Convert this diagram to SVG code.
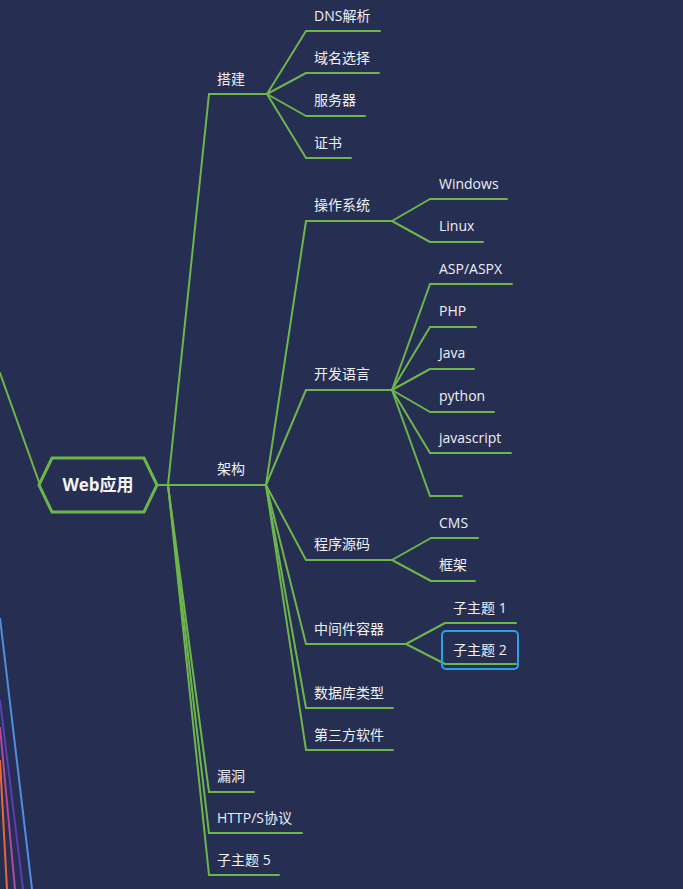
<svg xmlns="http://www.w3.org/2000/svg" width="683" height="889" viewBox="0 0 683 889">
<style>
.t{font-family:"Open Sans","Noto Sans CJK SC",sans-serif;font-size:14px;fill:#eef0f5}
.u{stroke:#6db64c;stroke-width:2;fill:none;stroke-linecap:round;stroke-linejoin:round}
.c{stroke:#6db64c;stroke-width:2;fill:none;stroke-linecap:round}
</style>
<rect x="0" y="0" width="683" height="889" fill="#262e52"/>
<g id="edge-lines">
<line x1="0" y1="618" x2="32" y2="889" stroke="#4f8fe0" stroke-width="2"/>
<line x1="0" y1="700" x2="23" y2="889" stroke="#5a3fb0" stroke-width="2"/>
<line x1="0" y1="727" x2="15" y2="889" stroke="#b04a9a" stroke-width="2"/>
<line x1="0" y1="760" x2="7" y2="889" stroke="#e8683a" stroke-width="2"/>
</g>
<g id="connectors">
<line class="c" x1="0" y1="373" x2="39" y2="482"/>
<polyline class="c" points="157,485 266,485"/>
<line class="c" x1="168" y1="485" x2="209" y2="94"/>
<line class="c" x1="168" y1="485" x2="209" y2="792"/>
<line class="c" x1="168" y1="485" x2="209" y2="833"/>
<line class="c" x1="168" y1="485" x2="209" y2="875"/>
<line class="c" x1="267" y1="94" x2="306" y2="31"/>
<line class="c" x1="267" y1="94" x2="306" y2="73"/>
<line class="c" x1="267" y1="94" x2="306" y2="116"/>
<line class="c" x1="267" y1="94" x2="306" y2="158"/>
<line class="c" x1="266" y1="485" x2="306" y2="221"/>
<line class="c" x1="266" y1="485" x2="306" y2="390"/>
<line class="c" x1="266" y1="485" x2="306" y2="560"/>
<line class="c" x1="266" y1="485" x2="306" y2="644"/>
<line class="c" x1="266" y1="485" x2="306" y2="708"/>
<line class="c" x1="266" y1="485" x2="306" y2="750"/>
<line class="c" x1="392" y1="221" x2="430" y2="199"/>
<line class="c" x1="392" y1="221" x2="430" y2="242"/>
<line class="c" x1="392" y1="390" x2="430" y2="284"/>
<line class="c" x1="392" y1="390" x2="430" y2="327"/>
<line class="c" x1="392" y1="390" x2="430" y2="369"/>
<line class="c" x1="392" y1="390" x2="430" y2="412"/>
<line class="c" x1="392" y1="390" x2="430" y2="453"/>
<line class="c" x1="392" y1="390" x2="430" y2="496"/>
<line class="c" x1="392" y1="560" x2="431" y2="538"/>
<line class="c" x1="392" y1="560" x2="431" y2="581"/>
<line class="c" x1="406" y1="644" x2="445" y2="623"/>
<line class="c" x1="406" y1="644" x2="445" y2="664"/>
</g>
<g id="root">
<polygon points="39,485 52,458 144,458 157,485 144,512 52,512" fill="#262e52" stroke="#6db64c" stroke-width="3" stroke-linejoin="miter"/>
<text x="98" y="491" text-anchor="middle" font-family="'Open Sans','Noto Sans CJK SC',sans-serif" font-size="17" font-weight="bold" fill="#f2f3f7">Web应用</text>
</g>
<g id="n-dajian"><line class="u" x1="209" y1="94" x2="267" y2="94"/><text class="t" x="217" y="84">搭建</text></g>
<g id="n-dns"><line class="u" x1="306" y1="31" x2="380" y2="31"/><text class="t" x="314" y="21">DNS解析</text></g>
<g id="n-yuming"><line class="u" x1="306" y1="73" x2="379" y2="73"/><text class="t" x="314" y="63">域名选择</text></g>
<g id="n-fuwuqi"><line class="u" x1="306" y1="116" x2="365" y2="116"/><text class="t" x="314" y="105">服务器</text></g>
<g id="n-zhengshu"><line class="u" x1="306" y1="158" x2="351" y2="158"/><text class="t" x="314" y="148">证书</text></g>
<g id="n-jiagou"><text class="t" x="217" y="474">架构</text></g>
<g id="n-os"><line class="u" x1="306" y1="221" x2="392" y2="221"/><text class="t" x="314" y="210">操作系统</text></g>
<g id="n-windows"><line class="u" x1="430" y1="199" x2="507" y2="199"/><text class="t" x="439" y="189">Windows</text></g>
<g id="n-linux"><line class="u" x1="430" y1="242" x2="483" y2="242"/><text class="t" x="439" y="231">Linux</text></g>
<g id="n-lang"><line class="u" x1="306" y1="390" x2="392" y2="390"/><text class="t" x="314" y="379">开发语言</text></g>
<g id="n-asp"><line class="u" x1="430" y1="284" x2="512" y2="284"/><text class="t" x="439" y="274">ASP/ASPX</text></g>
<g id="n-php"><line class="u" x1="430" y1="327" x2="476" y2="327"/><text class="t" x="439" y="316">PHP</text></g>
<g id="n-java"><line class="u" x1="430" y1="369" x2="474" y2="369"/><text class="t" x="439" y="358">Java</text></g>
<g id="n-python"><line class="u" x1="430" y1="412" x2="494" y2="412"/><text class="t" x="439" y="401">python</text></g>
<g id="n-js"><line class="u" x1="430" y1="453" x2="511" y2="453"/><text class="t" x="439" y="443">javascript</text></g>
<g id="n-empty"><line class="u" x1="430" y1="496" x2="462" y2="496"/></g>
<g id="n-src"><line class="u" x1="306" y1="560" x2="392" y2="560"/><text class="t" x="314" y="549">程序源码</text></g>
<g id="n-cms"><line class="u" x1="431" y1="538" x2="478" y2="538"/><text class="t" x="439" y="528">CMS</text></g>
<g id="n-kuangjia"><line class="u" x1="431" y1="581" x2="475" y2="581"/><text class="t" x="439" y="570">框架</text></g>
<g id="n-mid"><line class="u" x1="306" y1="644" x2="406" y2="644"/><text class="t" x="314" y="634">中间件容器</text></g>
<g id="n-sub1"><line class="u" x1="445" y1="623" x2="516" y2="623"/><text class="t" x="453" y="613">子主题 1</text></g>
<g id="n-sub2"><line class="u" x1="445" y1="664" x2="516" y2="664"/><text class="t" x="453" y="655">子主题 2</text><rect x="442" y="631" width="76" height="38" rx="4" fill="none" stroke="#2aa0e8" stroke-width="2"/></g>
<g id="n-db"><line class="u" x1="306" y1="708" x2="393" y2="708"/><text class="t" x="314" y="698">数据库类型</text></g>
<g id="n-third"><line class="u" x1="306" y1="750" x2="393" y2="750"/><text class="t" x="314" y="740">第三方软件</text></g>
<g id="n-vuln"><line class="u" x1="209" y1="792" x2="254" y2="792"/><text class="t" x="217" y="781">漏洞</text></g>
<g id="n-http"><line class="u" x1="209" y1="833" x2="302" y2="833"/><text class="t" x="217" y="823">HTTP/S协议</text></g>
<g id="n-sub5"><line class="u" x1="209" y1="875" x2="279" y2="875"/><text class="t" x="217" y="865">子主题 5</text></g>
</svg>
